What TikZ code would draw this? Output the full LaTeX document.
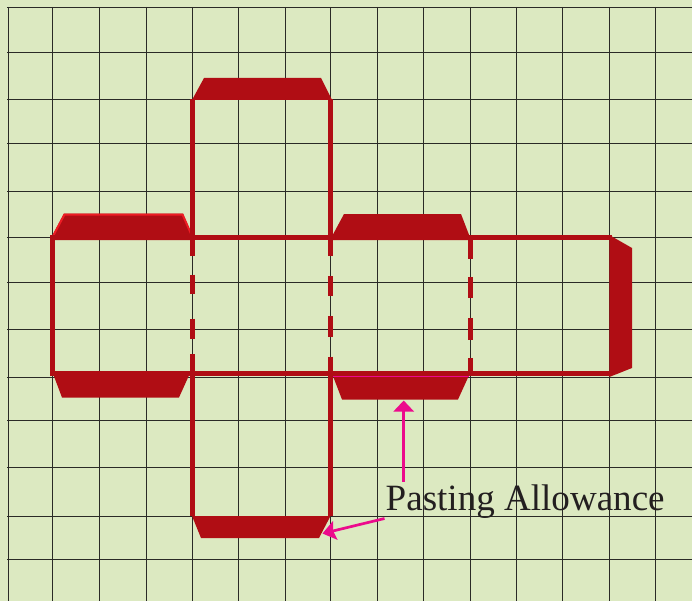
\documentclass[tikz,border=0pt]{standalone}
\usepackage{fontspec}
\setmainfont{Liberation Serif}
\usetikzlibrary{arrows.meta}
\definecolor{paper}{HTML}{DCE9C1}
\definecolor{gridc}{HTML}{2A2A26}
\definecolor{netred}{HTML}{B00D14}
\definecolor{brightred}{HTML}{ED1C24}
\definecolor{pinkc}{HTML}{EC0A8C}
\definecolor{inkc}{HTML}{231F20}
\tikzset{
  gridline/.style={draw=gridc,line width=1bp},
  foldline/.style={draw=netred,line width=5bp,line cap=butt},
  tabshape/.style={fill=netred,draw=none},
  pointer/.style={draw=pinkc,line width=2.7bp},
  lbl/.style={text=inkc,font=\fontsize{37.2}{40}\selectfont,inner sep=0pt,anchor=base west}
}
\begin{document}
\begin{tikzpicture}[x=1bp,y=-1bp]
\path[use as bounding box,fill=paper] (0,0) rectangle (692,601);
% grid
\foreach \gx in {8.5,52.5,99.5,146.5,192.5,238.5,285.5,330.5,377.5,423.5,470.5,516.5,562.5,609.5,655.5}
  \draw[gridline] (\gx,7) -- (\gx,601);
\foreach \gy in {7.5,52.5,99.5,143.5,191.5,237.5,282.5,329.5,377.5,420.5,467.5,516.5,559.5}
  \draw[gridline] (7,\gy) -- (692,\gy);
% tabs
\fill[tabshape] (192,100) -- (204,78) -- (321,78) -- (332,100) -- cycle;
\fill[tabshape] (50,240) -- (64,213.5) -- (183,213.5) -- (194,240) -- cycle;
\draw[brightred,line width=2bp] (52,238) -- (64.5,214.5) -- (182.5,214.5) -- (192,236);
\fill[tabshape] (330,240) -- (344,214) -- (461,214) -- (471,240) -- cycle;
\fill[tabshape] (52,371) -- (62,397.5) -- (179,397.5) -- (191,371) -- cycle;
\fill[tabshape] (331,371) -- (342,399.5) -- (458,399.5) -- (471,371) -- cycle;
\fill[tabshape] (192,516) -- (201,538) -- (319,538) -- (330.5,516) -- cycle;
\fill[tabshape] (609.3,235) -- (632,248) -- (632,368) -- (609.3,377) -- cycle;
\draw[pinkc,line width=1bp] (332,376.5) -- (469,376.5);
% fold lines
\draw[foldline] (192.5,99.5) -- (192.5,237) (330.5,99.5) -- (330.5,237);
\draw[foldline] (52.5,376) -- (52.5,235);
\draw[foldline] (50,237.5) -- (612,237.5);
\draw[foldline] (50,373.5) -- (612,373.5);
\draw[foldline] (192.5,373) -- (192.5,516) (330.5,373) -- (330.5,516);
% dashes
\foreach \ax/\bx in {240/255.5,274.5/294,318.7/339,354/373}
  \draw[foldline] (192.5,\ax) -- (192.5,\bx);
\foreach \ax/\bx in {240/256,276/296,316/337,356.5/373}
  \draw[foldline] (330.5,\ax) -- (330.5,\bx);
\foreach \ax/\bx in {240/258.5,277/298,318/339.5,358/373}
  \draw[foldline] (470.5,\ax) -- (470.5,\bx);
% label and pointers
\node[lbl] (label) at (385.5,510.5) {Pasting Allowance};
\coordinate (upstart) at (403.7,481.5);
\coordinate (uptip) at (403.7,400.5);
\coordinate (sidestart) at (384.5,518.5);
\coordinate (sidetip) at (322.5,533.5);
\draw[pointer,-{Triangle[length=11bp,width=20bp]}] (upstart) -- (uptip);
\draw[pointer,-{Stealth[length=13bp,width=19bp,inset=2bp]}] (sidestart) -- (sidetip);
\end{tikzpicture}
\end{document}
